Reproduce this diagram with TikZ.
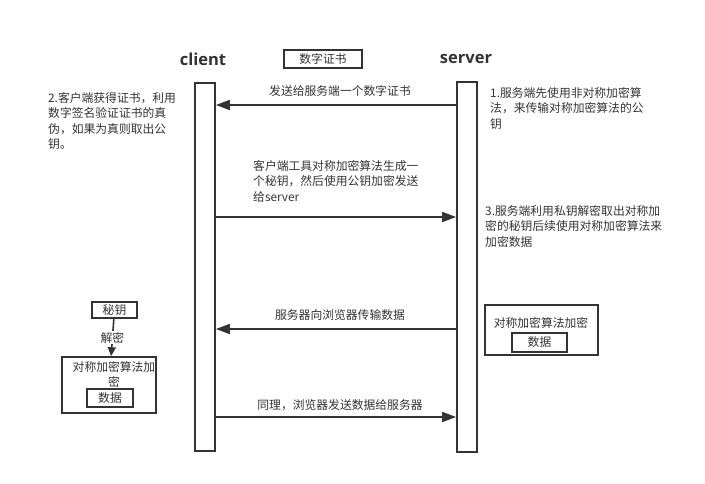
\documentclass[tikz,border=0pt]{standalone}
\usepackage{fontspec}
\setmainfont{Noto Sans CJK SC}
\newfontfamily\headfont{Open Sans}
\usetikzlibrary{arrows.meta,positioning}
\definecolor{ink}{HTML}{333333}
\newcommand{\txtsize}{\fontsize{11.8}{15.5}\selectfont}
\tikzset{
	life/.style={draw=ink,line width=1.7pt,minimum width=20pt,inner sep=0pt},
	msg/.style={draw=ink,line width=1.7pt,-{Triangle[length=14pt,width=10pt]}},
	box/.style={draw=ink,line width=1.6pt,inner sep=0pt,fill=white,font=\txtsize,text=ink},
	note/.style={align=left,anchor=north west,inner sep=0pt,font=\txtsize,text=ink},
	msglbl/.style={inner sep=0pt,font=\txtsize,text=ink},
	head/.style={font=\headfont\bfseries\fontsize{16.5}{16.5}\selectfont,text=ink}
}

\begin{document}
\begin{tikzpicture}[x=1pt,y=-1pt]
		\useasboundingbox (0,0) rectangle (705,484);
		
		% lifelines
		\node[life,minimum height=368pt] (client) at (205,267) {};
		\node[life,minimum height=370pt] (server) at (467,267) {};
		\node[head] (clientlbl) at (203,59) {client};
		\node[head] (serverlbl) at (466,59) {server};
		
		\node[box,minimum width=78pt,minimum height=18pt] (cert) at (323,59) {数字证书};
		
		% message rows
		\coordinate (r1) at (0,105);
		\coordinate (r2) at (0,217);
		\coordinate (r3) at (0,329);
		\coordinate (r4) at (0,417);
		
		\draw[msg] (server.west |- r1) -- (client.east |- r1);
		\draw[msg] (client.east |- r2) -- (server.west |- r2);
		\draw[msg] (server.west |- r3) -- (client.east |- r3);
		\draw[msg] (client.east |- r4) -- (server.west |- r4);
		
		\node[msglbl] (m1) at (340,91) {发送给服务端一个数字证书};
		\node[note] (m2) at (253,160) {客户端工具对称加密算法生成一\\个秘钥，然后使用公钥加密发送\\给server};
		\node[msglbl] (m3) at (340,315) {服务器向浏览器传输数据};
		\node[msglbl] (m4) at (340,405) {同理，浏览器发送数据给服务器};
		
		% notes
		\node[note] (n1) at (490,87) {1.服务端先使用非对称加密算\\法，来传输对称加密算法的公\\钥};
		\node[note] (n2) at (48,92) {2.客户端获得证书，利用\\数字签名验证证书的真\\伪，如果为真则取出公\\钥。};
		\node[note] (n3) at (485,205) {3.服务端利用私钥解密取出对称加\\密的秘钥后续使用对称加密算法来\\加密数据};
		
		% server side
		\node[box,minimum width=113pt,minimum height=50pt] (senc) at (541.5,330) {};
		\node[msglbl] (senclbl) at (541,323) {对称加密算法加密};
		\node[box,minimum width=55pt,minimum height=19pt] (sdata) at (539.5,342.5) {数据};
		
		% client side
		\node[box,minimum width=45pt,minimum height=16pt] (key) at (114.5,310) {秘钥};
		\node[box,minimum width=94pt,minimum height=56pt] (cenc) at (109,385) {};
		\node[msglbl,align=center,anchor=north] (cenclbl) at (114,361) {对称加密算法加\\密};
		\node[box,minimum width=46pt,minimum height=18pt] (cdata) at (110,398) {数据};
		\draw[draw=ink,line width=1.6pt,-{Triangle[length=9pt,width=8pt]}] (key) -- (cenc)
			node[midway,fill=white,inner sep=1pt,font=\txtsize,text=ink] {解密};
		
	\end{tikzpicture}
\end{document}
